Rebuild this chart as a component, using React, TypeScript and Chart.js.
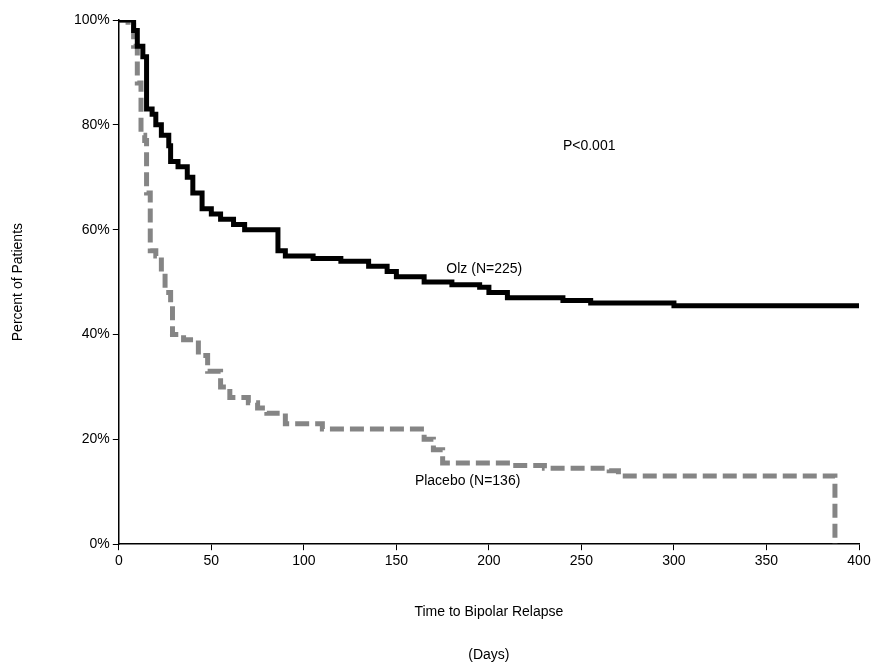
import { useEffect, useRef } from "react";
import { Chart, registerables } from "chart.js";

Chart.register(...registerables);

const olzDays = [0, 5, 8, 10, 13, 15, 18, 20, 23, 27, 28, 32, 37, 40, 45, 50, 55, 62, 68, 85, 86, 90, 100, 105, 120, 135, 145, 150, 165, 180, 195, 200, 210, 240, 255, 300, 400];
const olzPct = [100, 100, 98, 95, 93, 83, 82, 80, 78, 76, 73, 72, 70, 67, 64, 63, 62, 61, 60, 60, 56, 55, 55, 54.5, 54, 53, 52, 51, 50, 49.5, 49, 48, 47, 46.5, 46, 45.5, 45];
const plcDays = [0, 5, 8, 10, 12, 14, 15, 17, 20, 23, 25, 28, 29, 35, 40, 43, 48, 55, 60, 70, 75, 80, 90, 100, 110, 160, 165, 170, 175, 200, 210, 230, 265, 270, 387, 387];
const plcPct = [100, 99, 95, 88, 78, 77, 67, 56, 55, 52, 48, 46, 40, 39, 39, 36, 33, 30, 28, 27, 26, 25, 23, 23, 22, 22, 20, 18, 15.5, 15.5, 15, 14.5, 14, 13, 13, 0];

const labels = [
  { x: 240, y: 76, text: "P<0.001" },
  { x: 177, y: 52.5, text: "Olz (N=225)" },
  { x: 160, y: 12, text: "Placebo (N=136)" },
];

export default function App() {
  const ref = useRef<HTMLCanvasElement>(null);

  useEffect(() => {
    document.body.style.margin = "0";
    if (!ref.current) return;
    const font = "Liberation Sans, Arial, sans-serif";
    const textPlugin = {
      id: "texts",
      afterDraw(chart: any) {
        const { ctx, scales } = chart;
        ctx.save();
        ctx.fillStyle = "#000";
        ctx.font = `14px ${font}`;
        ctx.textBaseline = "middle";
        ctx.textAlign = "left";
        labels.forEach((l) => {
          ctx.fillText(l.text, scales.x.getPixelForValue(l.x), scales.y.getPixelForValue(l.y));
        });
        ctx.textAlign = "center";
        const cx = (chart.chartArea.left + chart.chartArea.right) / 2;
        ctx.fillText("Time to Bipolar Relapse", cx, 612);
        ctx.fillText("(Days)", cx, 655);
        ctx.translate(18, (chart.chartArea.top + chart.chartArea.bottom) / 2);
        ctx.rotate(-Math.PI / 2);
        ctx.fillText("Percent of Patients", 0, 0);
        ctx.restore();
      },
    };
    const chart = new Chart(ref.current, {
      type: "line",
      data: {
        datasets: [
          {
            data: olzDays.map((d, i) => ({ x: d, y: olzPct[i] })),
            borderColor: "#000",
            borderWidth: 5,
            stepped: true,
            pointRadius: 0,
          },
          {
            data: plcDays.map((d, i) => ({ x: d, y: plcPct[i] })),
            borderColor: "#858585",
            borderWidth: 5,
            borderDash: [14, 6],
            stepped: true,
            pointRadius: 0,
          },
        ],
      },
      options: {
        animation: false,
        responsive: false,
        layout: { padding: { left: 71, right: 21, top: 20, bottom: 92 } },
        plugins: { legend: { display: false }, tooltip: { enabled: false } },
        scales: {
          x: {
            type: "linear",
            min: 0,
            max: 400,
            ticks: { stepSize: 50, color: "#000", font: { size: 14, family: font } },
            grid: { drawOnChartArea: false, color: "#000", tickLength: 6 },
            border: { color: "#000", width: 1.5 },
          },
          y: {
            min: 0,
            max: 100,
            ticks: { stepSize: 20, color: "#000", font: { size: 14, family: font }, callback: (v: any) => v + "%" },
            grid: { drawOnChartArea: false, color: "#000", tickLength: 6 },
            border: { color: "#000", width: 1.5 },
          },
        },
      },
      plugins: [textPlugin],
    });
    return () => chart.destroy();
  }, []);

  return <canvas ref={ref} width={880} height={665} style={{ display: "block" }} />;
}
